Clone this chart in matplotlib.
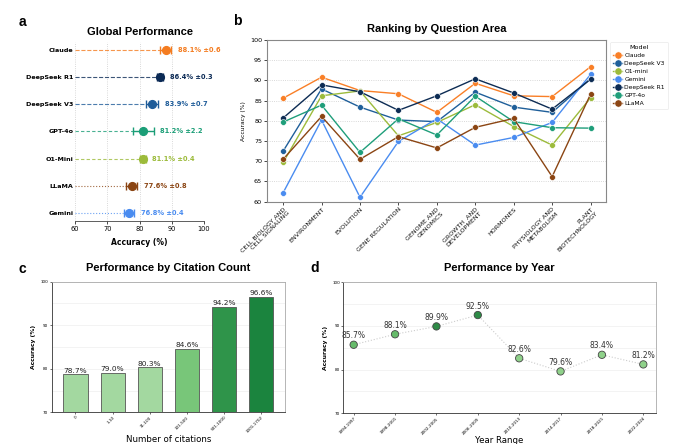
import matplotlib
matplotlib.use("Agg")
import matplotlib.pyplot as plt
import numpy as np
from matplotlib.ticker import MultipleLocator

plt.rcParams['font.family'] = ['DejaVu Sans']

# ---------------- data ----------------
# panel a
models_a = ["Claude", "DeepSeek R1", "DeepSeek V3", "GPT-4o", "O1-Mini", "LLaMA", "Gemini"]
acc_a = [88.1, 86.4, 83.9, 81.2, 81.1, 77.6, 76.8]
std_a = [0.6, 0.3, 0.7, 2.2, 0.4, 0.8, 0.4]
ci_a = [1.7, 1.0, 1.9, 3.3, 0.9, 1.7, 1.6]
colors_a = ["#f47c20", "#0b2a55", "#1f5c99", "#1b9e77", "#9cbb3b", "#8b4513", "#4a8cf0"]

# panel b
areas = ["CELL BIOLOGY AND\nCELL SIGNALING", "ENVIRONMENT", "EVOLUTION", "GENE REGULATION",
         "GENOME AND\nGENOMICS", "GROWTH  AND\nDEVELOPMENT", "HORMONES",
         "PHYSIOLOGY AND\nMETABOLISM", "PLANT\nBIOTECHNOLOGY"]
models_b = ["Claude", "DeepSeek V3", "O1-mini", "Gemini", "DeepSeek R1", "GPT-4o", "LLaMA"]
claude_b = [85.6, 90.8, 87.5, 86.7, 82.1, 89.3, 86.2, 86.0, 93.4]
dsv3_b = [72.5, 87.9, 83.4, 80.2, 79.8, 87.1, 83.4, 82.1, 90.4]
o1mini_b = [69.7, 86.2, 87.4, 76.3, 79.6, 84.0, 78.6, 74.0, 85.7]
gemini_b = [62.2, 80.2, 61.1, 74.9, 80.5, 74.0, 75.9, 79.6, 91.5]
dsr1_b = [80.7, 88.9, 87.2, 82.6, 86.2, 90.4, 86.9, 82.9, 90.3]
gpt4o_b = [79.7, 83.9, 72.2, 80.5, 76.5, 86.1, 79.8, 78.3, 78.2]
llama_b = [70.5, 81.1, 70.5, 76.1, 73.3, 78.4, 80.6, 66.2, 86.6]
colors_b = ["#f97f27", "#1f5f9a", "#9cbb3b", "#4a8cf0", "#0d2c54", "#1f9e7a", "#8b4513"]

# panel c
cit_labels = ["0", "1-10", "11-100", "101-500", "501-1000", "1001-1702"]
cit_acc = [78.7, 79.0, 80.3, 84.6, 94.2, 96.6]
cit_colors = ["#a3d8a0", "#a3d8a0", "#a3d8a0", "#78c679", "#2f944a", "#1b843e"]

# panel d
years = ["1994-1997", "1998-2001", "2002-2005", "2006-2009", "2010-2013",
         "2014-2017", "2018-2021", "2022-2024"]
year_acc = [85.7, 88.1, 89.9, 92.5, 82.6, 79.6, 83.4, 81.2]
year_colors = ["#66bb6a", "#66bb6a", "#2e8b47", "#2e8b47", "#8fd18a", "#8fd18a", "#8fd18a", "#8fd18a"]

# ---------------- figure ----------------
fig = plt.figure(figsize=(6.8, 4.44), dpi=100)
fig.patch.set_facecolor("white")

# ---- panel a ----
axa = fig.add_axes([0.1103, 0.503, 0.1897, 0.4017])
ypos = np.arange(len(models_a))[::-1]
styles = ["--", "--", "--", (0, (3, 2)), (0, (3, 2)), ":", ":"]
for i, (m, v, s, c, col) in enumerate(zip(models_a, acc_a, std_a, ci_a, colors_a)):
    y = ypos[i]
    axa.plot([60, v], [y, y], linestyle=styles[i], color=col, lw=0.8, alpha=0.8)
    axa.errorbar(v, y, xerr=c, fmt='o', color=col, ms=5.6, capsize=2.6, elinewidth=1.0,
                 capthick=1.0, zorder=3)
    axa.text(v + c + 2.0, y, f"{v:.1f}% ±{s:.1f}", color=col, fontsize=4.8,
             fontweight='bold', va='center', ha='left')
axa.set_xlim(60, 100)
axa.set_ylim(-0.28, 6.28)
axa.set_yticks(ypos)
axa.set_yticklabels(models_a, fontsize=4.6, fontweight='bold')
axa.set_xticks([60, 70, 80, 90, 100])
axa.tick_params(axis='x', labelsize=4.8, length=2, width=0.5, pad=1.5)
axa.tick_params(axis='y', length=0, pad=1)
for sp in ["top", "right", "left"]:
    axa.spines[sp].set_visible(False)
axa.spines["bottom"].set_linewidth(0.6)
axa.spines["bottom"].set_color("#444444")
axa.grid(axis='x', linestyle=':', color='#cccccc', lw=0.6)
axa.set_axisbelow(True)
axa.set_xlabel("Accuracy (%)", fontsize=5.5, fontweight='bold', labelpad=5)
axa.set_title("Global Performance", fontsize=8, fontweight='bold', pad=5,
              family=['Liberation Sans', 'DejaVu Sans'])

# ---- panel b ----
axb = fig.add_axes([0.3926, 0.5457, 0.4985, 0.3642])
series_b = [claude_b, dsv3_b, o1mini_b, gemini_b, dsr1_b, gpt4o_b, llama_b]
x = np.arange(len(areas))
for m, vals, col in zip(models_b, series_b, colors_b):
    axb.plot(x, vals, '-o', color=col, lw=1.0, ms=4.2, mec='white', mew=0.4, label=m)
axb.set_ylim(60, 100)
axb.set_xlim(-0.42, 8.4)
axb.yaxis.set_major_locator(MultipleLocator(5))
axb.set_xticks(x)
axb.set_xticklabels(areas, rotation=45, ha='right', rotation_mode='anchor', fontsize=4.6,
                    color='#111111')
axb.tick_params(axis='y', labelsize=4.6, length=2, width=0.5, pad=1.5)
axb.tick_params(axis='x', length=2, width=0.5, pad=1.5)
axb.grid(axis='y', linestyle=':', color='#cccccc', lw=0.6)
axb.set_axisbelow(True)
for sp in axb.spines.values():
    sp.set_color("#888888")
    sp.set_linewidth(0.8)
axb.set_ylabel("Accuracy (%)", fontsize=4.3, labelpad=3)
axb.set_title("Ranking by Question Area", fontsize=8, fontweight='bold', pad=6,
              family=['Liberation Sans', 'DejaVu Sans'])
leg = axb.legend(title="Model", loc='upper left', bbox_to_anchor=(1.008, 1.0),
                 fontsize=4.3, title_fontsize=4.6, frameon=True, handlelength=1.4,
                 labelspacing=0.48, borderpad=0.5, handletextpad=0.4, borderaxespad=0.3,
                 markerscale=1.25)
leg.get_frame().set_linewidth(0.4)
leg.get_frame().set_edgecolor("#dddddd")

# ---- panel c ----
axc = fig.add_axes([0.076, 0.0714, 0.343, 0.2941])
xc = np.arange(len(cit_labels))
bars = axc.bar(xc, cit_acc, width=0.65, color=cit_colors, edgecolor="#555555", linewidth=0.6)
for xi, v in zip(xc, cit_acc):
    axc.text(xi, v + 0.2, f"{v:.1f}%", ha='center', va='bottom', fontsize=5.3, color='#222222')
axc.set_ylim(70, 100)
axc.set_xlim(-0.64, 5.64)
axc.yaxis.set_major_locator(MultipleLocator(10))
axc.yaxis.set_minor_locator(MultipleLocator(5))
axc.grid(axis='y', which='both', color='#eeeeee', lw=0.5)
axc.set_axisbelow(True)
axc.set_xticks(xc)
axc.set_xticklabels(cit_labels, rotation=45, ha='right', rotation_mode='anchor', fontsize=3.0)
axc.tick_params(axis='y', which='major', labelsize=3.0, length=1.5, width=0.4, pad=1)
axc.tick_params(axis='y', which='minor', length=0)
axc.tick_params(axis='x', length=1.5, width=0.4, pad=0.8)
for sp in axc.spines.values():
    sp.set_color("#aaaaaa")
    sp.set_linewidth(0.6)
axc.spines["left"].set_color("#333333")
axc.spines["bottom"].set_color("#333333")
axc.set_ylabel("Accuracy (%)", fontsize=4.3, fontweight='bold', labelpad=3)
axc.set_xlabel("Number of citations", fontsize=6.2, labelpad=0.5)
axc.set_title("Performance by Citation Count", fontsize=8, fontweight='bold', pad=8,
              family=['Liberation Sans', 'DejaVu Sans'])

# ---- panel d ----
axd = fig.add_axes([0.5049, 0.0691, 0.4594, 0.2951])
xd = np.arange(len(years))
axd.plot(xd, year_acc, linestyle=':', color='#cccccc', lw=0.8, zorder=2)
axd.scatter(xd, year_acc, s=28, c=year_colors, edgecolors='#444444', linewidths=0.6, zorder=3)
for xi, v in zip(xd, year_acc):
    axd.text(xi, v + 1.0, f"{v:.1f}%", ha='center', va='bottom', fontsize=5.5, color='#333333')
axd.set_ylim(70, 100)
axd.set_xlim(-0.25, 7.3)
axd.yaxis.set_major_locator(MultipleLocator(10))
axd.yaxis.set_minor_locator(MultipleLocator(5))
axd.grid(axis='y', which='both', color='#eeeeee', lw=0.5)
axd.set_axisbelow(True)
axd.set_xticks(xd)
axd.set_xticklabels(years, rotation=45, ha='right', rotation_mode='anchor', fontsize=3.0)
axd.tick_params(axis='y', which='major', labelsize=3.0, length=1.5, width=0.4, pad=1)
axd.tick_params(axis='y', which='minor', length=0)
axd.tick_params(axis='x', length=1.5, width=0.4, pad=0.8)
for sp in axd.spines.values():
    sp.set_color("#aaaaaa")
    sp.set_linewidth(0.6)
axd.spines["left"].set_color("#333333")
axd.spines["bottom"].set_color("#333333")
axd.set_ylabel("Accuracy (%)", fontsize=4.3, fontweight='bold', labelpad=3)
axd.set_xlabel("Year Range", fontsize=6.2, labelpad=0.5)
axd.set_title("Performance by Year", fontsize=8, fontweight='bold', pad=8,
              family=['Liberation Sans', 'DejaVu Sans'])

# panel letters
for lab, (px, py) in zip("abcd", [(22, 22), (237, 21), (22, 269), (315, 268)]):
    fig.text(px / 680, 1 - py / 444, lab, fontsize=10, fontweight='bold',
             ha='center', va='center', family=['Liberation Sans', 'DejaVu Sans'])

fig.savefig("out.png", dpi=100, facecolor="white")
